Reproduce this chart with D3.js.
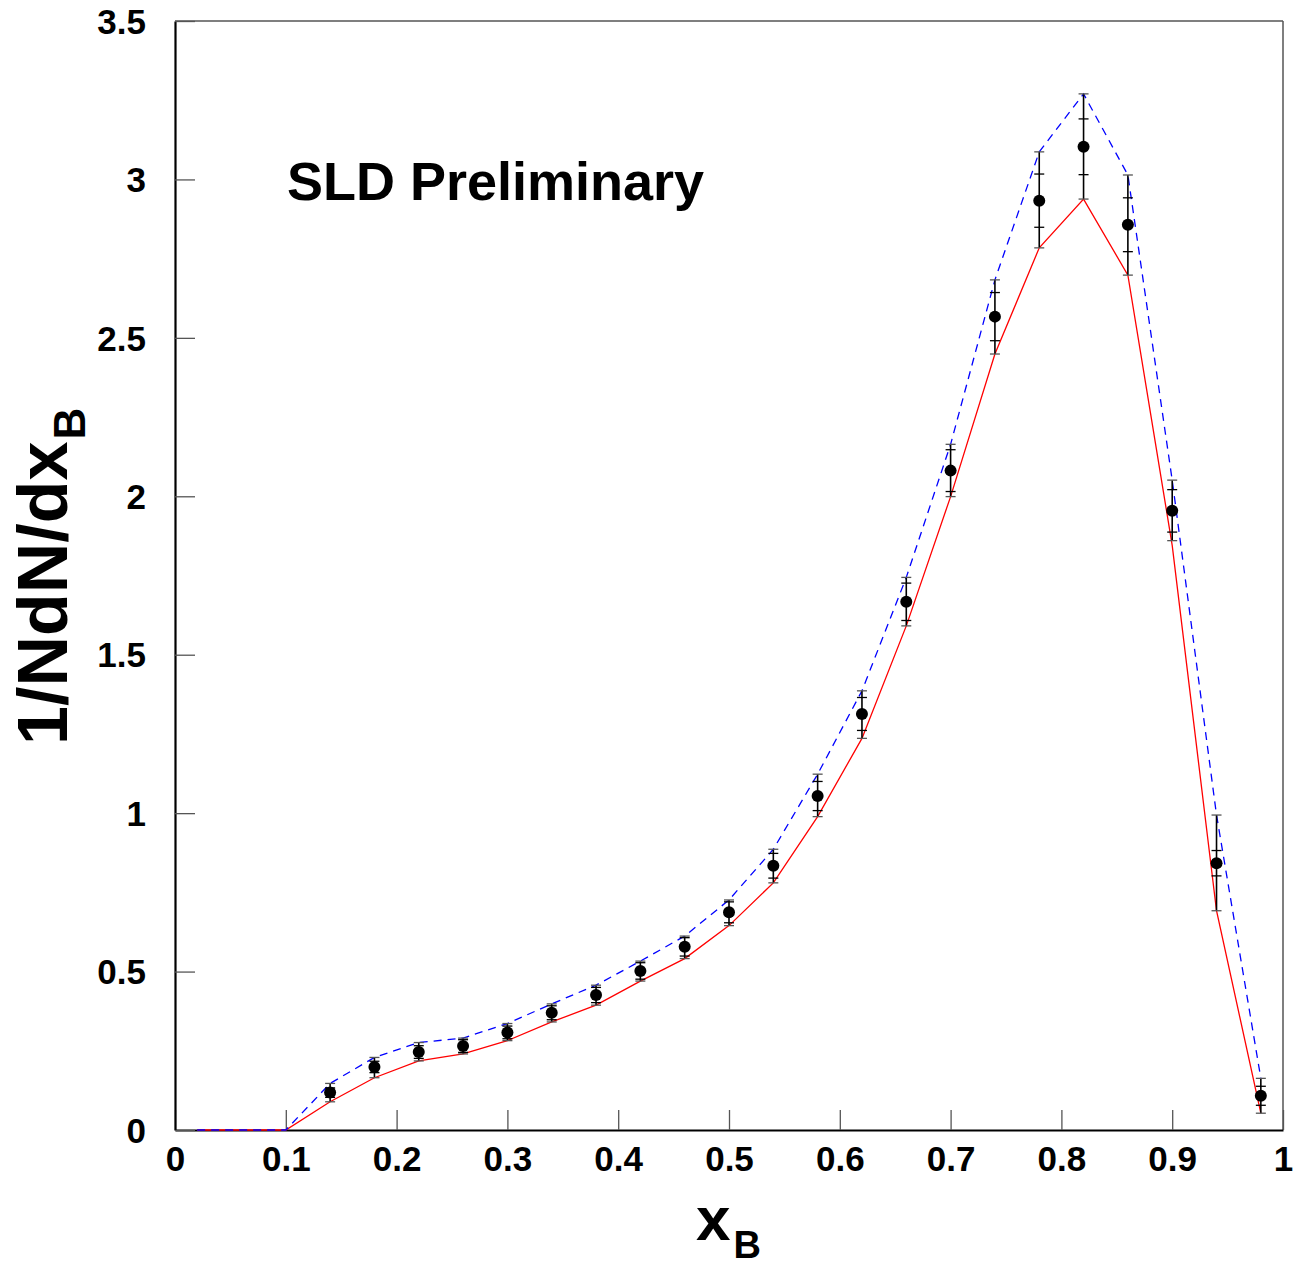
<!DOCTYPE html>
<html>
<head>
<meta charset="utf-8">
<script src="https://cdn.jsdelivr.net/npm/d3@7"></script>
<style>
  html, body { margin: 0; padding: 0; background: #fff; }
  svg { display: block; font-family: "Liberation Sans", Arial, Helvetica, sans-serif; }
</style>
</head>
<body>
<svg id="chart" width="1302" height="1268"></svg>
<script>
// ---- data ----
const xPoints = [0.14,0.18,0.22,0.26,0.30,0.34,0.38,0.42,0.46,0.50,0.54,0.58,0.62,0.66,0.70,0.74,0.78,0.82,0.86,0.90,0.94,0.98];
const values  = [0.118,0.199,0.246,0.265,0.308,0.370,0.426,0.502,0.578,0.687,0.834,1.054,1.313,1.667,2.081,2.567,2.933,3.103,2.857,1.954,0.842,0.108];
const statErr = [0.015,0.018,0.020,0.020,0.020,0.022,0.024,0.026,0.029,0.033,0.039,0.046,0.052,0.059,0.066,0.076,0.084,0.088,0.085,0.067,0.040,0.030];
const errLow  = [0.089,0.165,0.218,0.240,0.282,0.341,0.394,0.470,0.541,0.645,0.780,0.989,1.236,1.591,1.999,2.449,2.784,2.938,2.698,1.860,0.692,0.053];
const errHigh = [0.147,0.229,0.276,0.290,0.336,0.398,0.457,0.533,0.612,0.726,0.886,1.123,1.386,1.744,2.164,2.683,3.087,3.270,3.014,2.051,0.994,0.163];

const xCurve   = [0.02,0.06,0.10,0.14,0.18,0.22,0.26,0.30,0.34,0.38,0.42,0.46,0.50,0.54,0.58,0.62,0.66,0.70,0.74,0.78,0.82,0.86,0.90,0.94,0.98];
const redCurve = [0,0,0,0.089,0.165,0.218,0.240,0.282,0.341,0.394,0.470,0.541,0.645,0.780,0.989,1.236,1.591,1.999,2.449,2.784,2.938,2.698,1.845,0.692,0.053];
const blueCurve= [0,0,0,0.147,0.229,0.276,0.290,0.336,0.398,0.457,0.533,0.612,0.726,0.886,1.123,1.386,1.744,2.164,2.683,3.087,3.270,3.014,2.051,0.994,0.163];

const xTicks = [0,0.1,0.2,0.3,0.4,0.5,0.6,0.7,0.8,0.9,1];
const xTickLabels = ["0","0.1","0.2","0.3","0.4","0.5","0.6","0.7","0.8","0.9","1"];
const yTicks = [0,0.5,1,1.5,2,2.5,3,3.5];
const yTickLabels = ["0","0.5","1","1.5","2","2.5","3","3.5"];

const titleText = "SLD Preliminary";

// ---- layout ----
const L = 175, R = 1283, T = 21, B = 1130;
const svg = d3.select("#chart");
const x = d3.scaleLinear().domain([0,1]).range([L,R]);
const y = d3.scaleLinear().domain([0,3.5]).range([B,T]);

// frame top/right
svg.append("line").attr("x1",L).attr("x2",R).attr("y1",T).attr("y2",T)
  .attr("stroke","#555").attr("stroke-width",1.5);
svg.append("line").attr("x1",R).attr("x2",R).attr("y1",T).attr("y2",B)
  .attr("stroke","#555").attr("stroke-width",1.5);

// axes
const xAxis = d3.axisBottom(x).tickValues(xTicks)
  .tickFormat((d,i)=>xTickLabels[i]).tickSizeInner(-20).tickSizeOuter(0).tickPadding(16);
const gx = svg.append("g").attr("transform",`translate(0,${B})`).call(xAxis);
const yAxis = d3.axisLeft(y).tickValues(yTicks)
  .tickFormat((d,i)=>yTickLabels[i]).tickSizeInner(-20).tickSizeOuter(0).tickPadding(29);
const gy = svg.append("g").attr("transform",`translate(${L},0)`).call(yAxis);

[gx, gy].forEach(g => {
  g.select(".domain").attr("stroke","#000").attr("stroke-width",2.2);
  g.selectAll(".tick line").attr("stroke","#555").attr("stroke-width",1.3);
  g.selectAll(".tick text").attr("fill","#000")
    .style("font-family",'"Liberation Sans", Arial, sans-serif')
    .style("font-weight","bold").style("font-size","35px");
});
gx.selectAll(".tick text").attr("dy","0.72em");
gy.selectAll(".tick text").attr("dy","0.35em");

// curves
const lineGen = d3.line().x((d,i)=>x(xCurve[i])).y(d=>y(d));
svg.append("path").datum(redCurve).attr("d",lineGen)
  .attr("fill","none").attr("stroke","#ff0000").attr("stroke-width",1.3);
svg.append("path").datum(blueCurve).attr("d",lineGen)
  .attr("fill","none").attr("stroke","#0000ff").attr("stroke-width",1.3)
  .attr("stroke-dasharray","8,6");

// error bars
const eg = svg.append("g");
xPoints.forEach((xv,i) => {
  const cx = x(xv);
  eg.append("line").attr("x1",cx).attr("x2",cx)
    .attr("y1",y(errLow[i])).attr("y2",y(errHigh[i]))
    .attr("stroke","#000").attr("stroke-width",1.6);
  [errLow[i], errHigh[i]].forEach(v => {
    eg.append("line").attr("x1",cx-5).attr("x2",cx+5)
      .attr("y1",y(v)).attr("y2",y(v)).attr("stroke","#555").attr("stroke-width",1.3);
  });
  [values[i]-statErr[i], values[i]+statErr[i]].forEach(v => {
    eg.append("line").attr("x1",cx-5).attr("x2",cx+5)
      .attr("y1",y(v)).attr("y2",y(v)).attr("stroke","#000").attr("stroke-width",1.3);
  });
});

// points
svg.append("g").selectAll("circle").data(values).join("circle")
  .attr("cx",(d,i)=>x(xPoints[i])).attr("cy",d=>y(d)).attr("r",6).attr("fill","#000");

// title
svg.append("text").attr("x",287).attr("y",200).text(titleText)
  .style("font-weight","bold").style("font-size","54px").attr("fill","#000");

// x axis title
const xt = svg.append("text").attr("x",696).attr("y",1240)
  .style("font-weight","bold").attr("fill","#000");
xt.append("tspan").text("x").style("font-size","62px");
xt.append("tspan").text("B").attr("dy",18).attr("dx",3).style("font-size","38px");

// y axis title
const yt = svg.append("text").attr("transform","translate(67,745) rotate(-90)")
  .style("font-weight","bold").attr("fill","#000");
yt.append("tspan").text("1/NdN/dx").style("font-size","70px");
yt.append("tspan").text("B").attr("dy",18).attr("dx",2).style("font-size","44px");
</script>
</body>
</html>
